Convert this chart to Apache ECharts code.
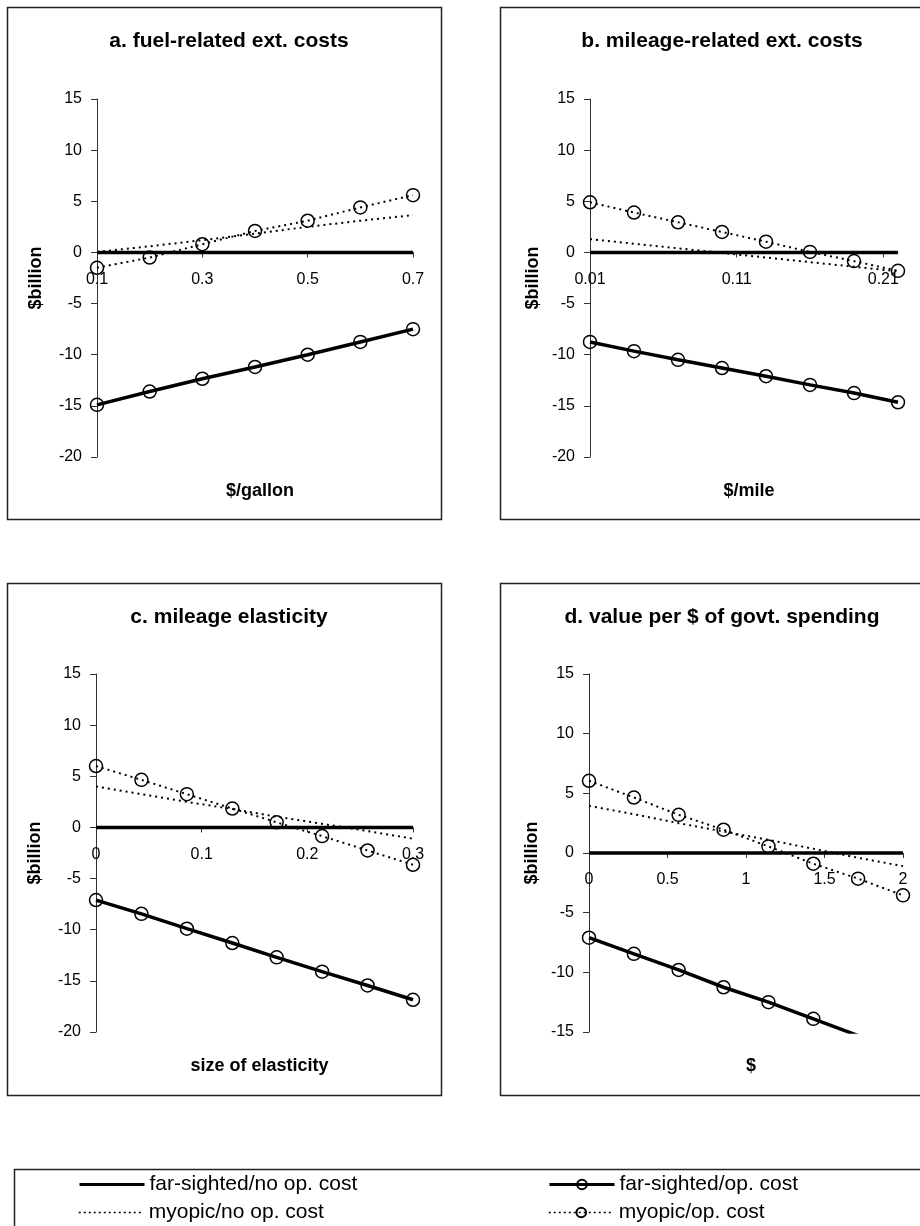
<!DOCTYPE html>
<html>
<head>
<meta charset="utf-8">
<script src="https://cdn.jsdelivr.net/npm/echarts@6/dist/echarts.min.js"></script>
<style>
  html, body { margin: 0; padding: 0; background: #fff; }
  #main { width: 920px; height: 1226px; }
</style>
</head>
<body>
<div id="main"></div>
<script>
// panel a: fuel-related ext. costs ($/gallon)
var xsA = [0.1, 0.2, 0.3, 0.4, 0.5, 0.6, 0.7];
var farNoA = [0, 0, 0, 0, 0, 0, 0];
var farOpA = [-14.9, -13.6, -12.35, -11.2, -10.0, -8.75, -7.5];
var myoNoA = [0.05, 0.6, 1.2, 1.85, 2.5, 3.1, 3.65];
var myoOpA = [-1.5, -0.5, 0.8, 2.1, 3.1, 4.4, 5.6];

// panel b: mileage-related ext. costs ($/mile)
var xsB = [0.01, 0.04, 0.07, 0.10, 0.13, 0.16, 0.19, 0.22];
var farNoB = [0, 0, 0, 0, 0, 0, 0, 0];
var farOpB = [-8.75, -9.65, -10.5, -11.3, -12.1, -12.95, -13.75, -14.65];
var myoNoB = [1.3, 0.85, 0.4, -0.05, -0.5, -0.95, -1.4, -1.85];
var myoOpB = [4.9, 3.9, 2.95, 2.0, 1.05, 0.05, -0.85, -1.8];

// panel c: mileage elasticity
var xsC = [0, 0.043, 0.086, 0.129, 0.171, 0.214, 0.257, 0.3];
var farNoC = [0, 0, 0, 0, 0, 0, 0, 0];
var farOpC = [-7.1, -8.45, -9.9, -11.3, -12.7, -14.1, -15.45, -16.85];
var myoNoC = [4.0, 3.25, 2.5, 1.8, 1.05, 0.35, -0.35, -1.1];
var myoOpC = [6.0, 4.65, 3.25, 1.85, 0.5, -0.85, -2.25, -3.65];

// panel d: value per $ of govt. spending
var xsD = [0, 0.286, 0.571, 0.857, 1.143, 1.429, 1.714, 2];
var farNoD = [0, 0, 0, 0, 0, 0, 0, 0];
var farOpD = [-7.1, -8.45, -9.8, -11.25, -12.5, -13.9, -15.3, -16.7];
var myoNoD = [3.95, 3.25, 2.5, 1.8, 1.1, 0.35, -0.4, -1.1];
var myoOpD = [6.05, 4.65, 3.2, 1.95, 0.55, -0.9, -2.15, -3.55];

var titles = ['a. fuel-related ext. costs', 'b. mileage-related ext. costs',
              'c. mileage elasticity', 'd. value per $ of govt. spending'];
var xNames = ['$/gallon', '$/mile', 'size of elasticity', '$'];
var xTicks = [[0.1, 0.3, 0.5, 0.7], [0.01, 0.11, 0.21], [0, 0.1, 0.2, 0.3], [0, 0.5, 1, 1.5, 2]];
var xRange = [[0.1, 0.7], [0.01, 0.22], [0, 0.3], [0, 2]];
var yRange = [[-20, 15], [-20, 15], [-20, 15], [-15, 15]];
var names = ['far-sighted/no op. cost', 'far-sighted/op. cost', 'myopic/no op. cost', 'myopic/op. cost'];

var panels = [
  [xsA, farNoA, farOpA, myoNoA, myoOpA],
  [xsB, farNoB, farOpB, myoNoB, myoOpB],
  [xsC, farNoC, farOpC, myoNoC, myoOpC],
  [xsD, farNoD, farOpD, myoNoD, myoOpD]
];

var FONT = 'Liberation Sans, Arial, sans-serif';
var grids = [
  {left: 97, top: 99, width: 316, height: 358},
  {left: 590, top: 99, width: 308, height: 358},
  {left: 96, top: 674, width: 317, height: 358},
  {left: 589, top: 674, width: 314, height: 358}
];
var boxes = [[7, 7], [500, 7], [7, 583], [500, 583]];

function pairs(xs, ys) {
  return xs.map(function (x, i) { return [x, ys[i]]; });
}

var solid = {color: '#000', width: 3.5};
var dotted = {color: '#000', width: 2, type: [2, 4]};
var ring = {color: 'rgba(0,0,0,0)', borderColor: '#000', borderWidth: 1.5};

var xAxes = [], yAxes = [], series = [], titleList = [], graphics = [];

panels.forEach(function (p, k) {
  var g = grids[k];
  // lift the x axis up to the zero line
  var lift = g.height * (0 - yRange[k][0]) / (yRange[k][1] - yRange[k][0]);
  xAxes.push({
    gridIndex: k, type: 'value', min: xRange[k][0], max: xRange[k][1],
    position: 'bottom', offset: -lift,
    axisLine: {onZero: false, lineStyle: {color: '#333', width: 1}},
    axisTick: {show: true, length: 5, customValues: xTicks[k], lineStyle: {color: '#333'}},
    axisLabel: {customValues: xTicks[k], margin: 19, fontSize: 16, color: '#000', fontFamily: FONT},
    splitLine: {show: false}
  });
  yAxes.push({
    gridIndex: k, type: 'value', min: yRange[k][0], max: yRange[k][1], interval: 5,
    name: '$billion', nameLocation: 'middle', nameGap: k % 2 ? 48 : 52,
    nameTextStyle: {fontSize: 18, fontWeight: 'bold', color: '#000', fontFamily: FONT},
    axisLine: {show: true, onZero: false, lineStyle: {color: '#333', width: 1}},
    axisTick: {show: true, length: 6, lineStyle: {color: '#333'}},
    axisLabel: {margin: 15, fontSize: 16, color: '#000', fontFamily: FONT},
    splitLine: {show: false}
  });
  var xs = p[0];
  series.push({name: names[0], type: 'line', xAxisIndex: k, yAxisIndex: k, data: pairs(xs, p[1]),
    symbol: 'none', lineStyle: solid, itemStyle: {color: '#000'}, clip: true, z: 3});
  series.push({name: names[1], type: 'line', xAxisIndex: k, yAxisIndex: k, data: pairs(xs, p[2]),
    symbol: 'circle', symbolSize: 13, showAllSymbol: true, lineStyle: solid, itemStyle: ring, clip: true, z: 3});
  series.push({name: names[2], type: 'line', xAxisIndex: k, yAxisIndex: k, data: pairs(xs, p[3]),
    symbol: 'none', lineStyle: dotted, itemStyle: {color: '#000'}, clip: true, z: 2});
  series.push({name: names[3], type: 'line', xAxisIndex: k, yAxisIndex: k, data: pairs(xs, p[4]),
    symbol: 'circle', symbolSize: 13, showAllSymbol: true, lineStyle: dotted, itemStyle: ring, clip: true, z: 2});

  var b = boxes[k];
  titleList.push({
    text: titles[k], left: b[0] + 217, top: b[1] + 19, textAlign: 'center',
    textStyle: {fontSize: 21, fontWeight: 'bold', color: '#000', fontFamily: FONT}
  });
  titleList.push({
    text: xNames[k], left: g.left + g.width / 2, top: g.top + g.height + 20, textAlign: 'center',
    textStyle: {fontSize: 18, fontWeight: 'bold', color: '#000', fontFamily: FONT}
  });
  graphics.push({
    type: 'rect', shape: {x: b[0] + 0.5, y: b[1] + 0.5, width: 434, height: 512},
    style: {fill: null, stroke: '#222', lineWidth: 1.5}, silent: true
  });
});

graphics.push({
  type: 'rect', shape: {x: 14.5, y: 1169.5, width: 930, height: 80},
  style: {fill: null, stroke: '#222', lineWidth: 1.5}, silent: true
});

var legendText = {fontSize: 21, color: '#000', fontFamily: FONT};
var noMark = {color: 'rgba(0,0,0,0)', borderWidth: 0};
function legendItem(name, left, top, plain, thick) {
  var item = {name: name, lineStyle: thick ? {width: 3, type: 'solid'} : {width: 1.5, type: [2, 3]}};
  if (plain) item.itemStyle = noMark;
  return {
    data: [item],
    left: left, top: top, itemWidth: 65, itemHeight: 12, itemGap: 0,
    textStyle: legendText, selectedMode: false, padding: 0
  };
}

var option = {
  animation: false,
  backgroundColor: '#fff',
  title: titleList,
  graphic: graphics,
  grid: grids,
  xAxis: xAxes,
  yAxis: yAxes,
  legend: [
    legendItem(names[0], 78, 1174, true, true),
    legendItem(names[2], 78, 1202, true, false),
    legendItem(names[1], 548, 1174, false, true),
    legendItem(names[3], 548, 1202, false, false)
  ],
  series: series
};

var chart = echarts.init(document.getElementById('main'));
chart.setOption(option);
</script>
</body>
</html>
